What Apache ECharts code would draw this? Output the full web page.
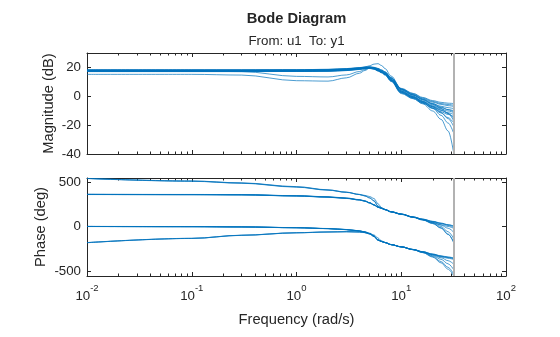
<!DOCTYPE html>
<html><head><meta charset="utf-8">
<script src="https://cdn.jsdelivr.net/npm/echarts@6/dist/echarts.min.js"></script>
<style>html,body{margin:0;padding:0;background:#fff}#c{width:560px;height:337px}</style>
</head><body><div id="c"></div><script>
// ---- data ----
const freq = [0.01, 0.1, 0.3, 1, 2, 3, 4, 4.5, 5, 5.5, 6, 6.5, 7, 8, 10, 13, 16, 20, 24, 28, 31.42];
const nyquist = 31.4159;

const mag1  = [18.3, 18.3, 18.3, 18.4, 18.7, 19.2, 19.9, 20.3, 20.5, 20.1, 19.3, 18.2, 17.0, 13.0, 5.5, 2.0, -0.8, -3.0, -4.2, -4.8, -5.0];
const mag2  = [18.1, 18.1, 18.1, 18.2, 18.4, 18.9, 19.6, 20.0, 20.2, 19.8, 19.0, 17.9, 16.6, 12.6, 5.0, 1.3, -1.7, -4.1, -5.6, -6.5, -7.0];
const mag3  = [17.9, 17.9, 17.9, 17.9, 18.1, 18.6, 19.4, 19.8, 20.0, 19.6, 18.7, 17.6, 16.3, 12.2, 4.5, 0.7, -2.4, -5.2, -6.9, -7.9, -8.5];
const mag4  = [17.7, 17.7, 17.7, 17.7, 17.9, 18.5, 19.3, 19.7, 19.9, 19.4, 18.4, 17.2, 15.9, 11.8, 4.0, 0.1, -3.1, -6.0, -7.9, -9.2, -9.9];
const mag5  = [17.5, 17.5, 17.5, 17.5, 17.7, 18.2, 19.0, 19.5, 19.7, 19.2, 18.1, 16.9, 15.5, 11.3, 3.3, -0.5, -3.7, -6.7, -8.8, -10.2, -11.2];
const mag6  = [17.3, 17.3, 17.3, 17.3, 17.5, 18.0, 18.8, 19.3, 19.5, 19.0, 17.8, 16.6, 15.1, 10.8, 2.6, -1.1, -4.3, -7.4, -9.8, -11.4, -12.5];
const mag7  = [17.1, 17.1, 17.1, 17.2, 17.3, 17.8, 18.6, 19.1, 19.3, 18.7, 17.5, 16.2, 14.7, 10.3, 1.9, -1.7, -4.9, -8.1, -10.7, -12.6, -13.9];
const mag8  = [18.3, 18.3, 18.3, 18.4, 18.6, 19.0, 19.7, 20.3, 21.2, 22.3, 22.6, 21.3, 19.2, 14.0, 5.0, 1.0, -2.0, -5.0, -7.5, -9.3, -10.6];
const mag9  = [17.6, 17.6, 17.1, 13.8, 13.4, 14.8, 17.2, 18.5, 19.8, 19.4, 18.2, 17.0, 15.6, 11.5, 3.6, -0.2, -3.6, -7.0, -9.5, -11.8, -15.0];
const mag10 = [15.2, 15.2, 14.7, 10.8, 10.5, 12.8, 16.0, 17.9, 19.5, 19.4, 18.0, 16.7, 15.2, 10.9, 2.8, -0.9, -4.5, -8.3, -11.6, -14.8, -18.0];
const mag11 = [17.8, 17.8, 17.8, 17.9, 18.2, 18.7, 19.5, 19.9, 20.1, 19.7, 18.8, 17.6, 16.3, 12.2, 4.6, 0.9, -2.3, -5.5, -8.4, -12.0, -16.5];
const mag12 = [17.6, 17.6, 17.6, 17.6, 17.8, 18.3, 19.1, 19.6, 19.8, 19.3, 18.2, 17.0, 15.6, 11.4, 3.5, -0.3, -3.6, -7.3, -11.2, -15.5, -20.5];
const mag13 = [17.4, 17.4, 17.4, 17.4, 17.6, 18.1, 18.9, 19.4, 19.6, 19.1, 17.9, 16.7, 15.2, 11.0, 2.9, -0.9, -4.3, -8.5, -13.2, -18.5, -25.0];
const mag14 = [17.2, 17.2, 17.2, 17.2, 17.4, 17.9, 18.7, 19.2, 19.4, 18.9, 17.6, 16.4, 14.9, 10.6, 2.3, -1.5, -5.2, -10.2, -16.0, -24.0, -38.0];
const mag15 = [18.2, 18.2, 18.2, 18.2, 18.5, 19.0, 19.7, 20.1, 20.3, 19.9, 19.2, 18.1, 16.9, 12.8, 5.2, 1.7, -1.2, -3.6, -5.0, -5.7, -6.1];

const ph1  = [540, 510, 488, 445, 410, 385, 358, 342, 320, 285, 225, 205, 190, 166, 140, 107, 82, 55, 35, 18, 8];
const ph2  = [541, 512, 490, 448, 412, 386, 360, 344, 322, 290, 230, 207, 191, 166, 139, 105, 78, 45, 20, 0, -20];
const ph3  = [539, 508, 486, 442, 408, 383, 360, 349, 336, 314, 255, 212, 192, 166, 139, 104, 76, 35, -20, -90, -165];
const ph4  = [362, 360, 358, 346, 334, 320, 302, 288, 268, 245, 220, 206, 191, 166, 140, 107, 83, 58, 38, 20, 3];
const ph5  = [361, 359, 357, 345, 332, 318, 300, 286, 266, 243, 218, 205, 190, 165, 139, 106, 81, 54, 32, 12, -8];
const ph6  = [360, 358, 356, 344, 331, 317, 299, 285, 265, 242, 217, 204, 189, 164, 138, 104, 77, 45, 15, -20, -60];
const ph7  = [360, 358, 356, 343, 330, 316, 298, 284, 264, 241, 216, 203, 188, 163, 137, 103, 74, 40, 0, -60, -130];
const ph8  = [359, 357, 355, 342, 329, 315, 297, 283, 263, 240, 215, 202, 187, 162, 136, 102, 72, 32, -15, -85, -177];
const ph9  = [0, -2, -5, -14, -24, -35, -50, -62, -80, -108, -150, -168, -180, -203, -228, -258, -283, -310, -330, -343, -353];
const ph10 = [1, -1, -4, -13, -23, -34, -49, -61, -79, -107, -152, -169, -181, -204, -229, -259, -285, -314, -336, -350, -362];
const ph11 = [-1, -3, -6, -15, -25, -37, -52, -63, -76, -96, -130, -163, -180, -204, -229, -260, -288, -322, -352, -385, -420];
const ph12 = [0, -2, -5, -14, -24, -36, -51, -64, -81, -109, -154, -170, -182, -205, -230, -261, -290, -330, -370, -420, -480];
const ph13 = [-183, -135, -100, -72, -63, -60, -63, -70, -86, -114, -155, -170, -182, -205, -230, -260, -286, -318, -342, -358, -370];
const ph14 = [-182, -134, -99, -71, -62, -59, -62, -69, -85, -112, -153, -169, -181, -204, -230, -261, -292, -338, -395, -460, -530];
const ph15 = [-181, -133, -98, -70, -61, -58, -61, -68, -84, -111, -152, -168, -180, -204, -229, -262, -294, -345, -410, -480, -552];
const ph16 = [0, -2, -5, -14, -24, -35, -50, -62, -80, -108, -151, -168, -181, -204, -229, -259, -284, -312, -333, -347, -357];

const xMajorTicks = [0.01, 0.1, 1, 10, 100];
const xMinorTicks = [];
for (const d of [0.01, 0.1, 1, 10]) for (let m = 2; m <= 9; m++) xMinorTicks.push(+(m * d).toPrecision(3));
const magTicks = [-40, -20, 0, 20];
const phaseTicks = [-500, 0, 500];
const magRange = [-40, 30];
const phaseRange = [-557, 545];

const magSeriesData = [mag1, mag2, mag3, mag4, mag5, mag6, mag7, mag8, mag9, mag10, mag11, mag12, mag13, mag14, mag15];
const phaseSeriesData = [ph1, ph2, ph3, ph4, ph5, ph6, ph7, ph8, ph9, ph10, ph11, ph12, ph13, ph14, ph15, ph16];

// ---- chart ----
const FONT = '"Liberation Sans", Arial, Helvetica, sans-serif';
const AX = '#262626';
const BLUE = '#0072BD';
const G0 = {left: 87, top: 53, width: 419, height: 101};
const G1 = {left: 87, top: 178, width: 419, height: 98};

function xAx(gridIndex, position, ticks, len, showLine, labels) {
  const a = {
    type: 'log', logBase: 10, gridIndex, position, min: 0.01, max: 100,
    axisLine: {show: showLine, onZero: false, lineStyle: {color: AX, width: 1}},
    axisTick: {show: true, inside: true, length: len, customValues: ticks, lineStyle: {color: AX, width: 1}},
    axisLabel: {show: false},
    splitLine: {show: false}, minorTick: {show: false}, minorSplitLine: {show: false},
    axisPointer: {show: false}
  };
  if (labels) {
    a.axisLabel = {
      show: true, customValues: xMajorTicks, margin: 7, color: AX, fontFamily: FONT,
      formatter: v => '{b|10}{s|' + Math.round(Math.log10(v)) + '}',
      rich: {
        b: {fontSize: 13.3, fontFamily: FONT, color: AX, verticalAlign: 'bottom', lineHeight: 20},
        s: {fontSize: 9.5, fontFamily: FONT, color: AX, verticalAlign: 'top', lineHeight: 20}
      }
    };
  }
  return a;
}
function yAx(gridIndex, position, range, ticks, labels, show) {
  return {
    type: 'value', gridIndex, position, min: range[0], max: range[1], show: show,
    axisLine: {show: true, onZero: false, lineStyle: {color: AX, width: 1}},
    axisTick: {show: true, inside: true, length: 4, customValues: ticks, lineStyle: {color: AX, width: 1}},
    axisLabel: labels ? {show: true, customValues: ticks, margin: 6, color: AX, fontFamily: FONT, fontSize: 13.3} : {show: false},
    splitLine: {show: false}
  };
}

const pairs = arr => arr.map((v, i) => [freq[i], v]);
const nyqMark = {
  silent: true, symbol: ['none', 'none'], label: {show: false}, animation: false,
  lineStyle: {color: '#B2B2B2', width: 2, type: 'solid', opacity: 1}, emphasis: {disabled: true},
  data: [{xAxis: nyquist}]
};
const series = [];
magSeriesData.forEach((arr, i) => series.push({
  type: 'line', xAxisIndex: 0, yAxisIndex: 0, data: pairs(arr), showSymbol: false, silent: true,
  smooth: 0.35, smoothMonotone: 'x', lineStyle: {color: BLUE, width: 0.7}, z: 3,
  markLine: i === 0 ? nyqMark : undefined
}));
phaseSeriesData.forEach((arr, i) => series.push({
  type: 'line', xAxisIndex: 4, yAxisIndex: 3, data: pairs(arr), showSymbol: false, silent: true,
  smooth: 0.35, smoothMonotone: 'x', lineStyle: {color: BLUE, width: 0.7}, z: 3,
  markLine: i === 0 ? nyqMark : undefined
}));

const chart = echarts.init(document.getElementById('c'), null, {renderer: 'canvas'});
chart.setOption({
  animation: false,
  backgroundColor: '#fff',
  grid: [
    Object.assign({outerBoundsMode: 'none'}, G0),
    Object.assign({outerBoundsMode: 'none'}, G0),
    Object.assign({outerBoundsMode: 'none'}, G1),
    Object.assign({outerBoundsMode: 'none'}, G1)
  ],
  xAxis: [
    xAx(0, 'bottom', xMajorTicks, 4, true, false),
    xAx(0, 'top', xMajorTicks, 4, true, false),
    xAx(1, 'bottom', xMinorTicks, 2.5, false, false),
    xAx(1, 'top', xMinorTicks, 2.5, false, false),
    xAx(2, 'bottom', xMajorTicks, 4, true, true),
    xAx(2, 'top', xMajorTicks, 4, true, false),
    xAx(3, 'bottom', xMinorTicks, 2.5, false, false),
    xAx(3, 'top', xMinorTicks, 2.5, false, false)
  ],
  yAxis: [
    yAx(0, 'left', magRange, magTicks, true, true),
    yAx(0, 'right', magRange, magTicks, false, true),
    yAx(1, 'left', magRange, magTicks, false, false),
    yAx(2, 'left', phaseRange, phaseTicks, true, true),
    yAx(2, 'right', phaseRange, phaseTicks, false, true),
    yAx(3, 'left', phaseRange, phaseTicks, false, false)
  ],
  graphic: [
    {type: 'text', x: 296.5, y: 19, style: {text: 'Bode Diagram', font: 'bold 14.7px ' + FONT, fill: AX, align: 'center', verticalAlign: 'middle', textAlign: 'center', textVerticalAlign: 'middle'}},
    {type: 'text', x: 296.5, y: 41, style: {text: 'From: u1  To: y1', font: '13.3px ' + FONT, fill: AX, align: 'center', verticalAlign: 'middle', textAlign: 'center', textVerticalAlign: 'middle'}},
    {type: 'text', x: 296.5, y: 320, style: {text: 'Frequency (rad/s)', font: '14.7px ' + FONT, fill: AX, align: 'center', verticalAlign: 'middle', textAlign: 'center', textVerticalAlign: 'middle'}},
    {type: 'text', x: 49, y: 103.5, rotation: Math.PI / 2, style: {text: 'Magnitude (dB)', font: '14.7px ' + FONT, fill: AX, align: 'center', verticalAlign: 'middle', textAlign: 'center', textVerticalAlign: 'middle'}},
    {type: 'text', x: 41, y: 227, rotation: Math.PI / 2, style: {text: 'Phase (deg)', font: '14.7px ' + FONT, fill: AX, align: 'center', verticalAlign: 'middle', textAlign: 'center', textVerticalAlign: 'middle'}}
  ],
  series: series
});
</script></body></html>
